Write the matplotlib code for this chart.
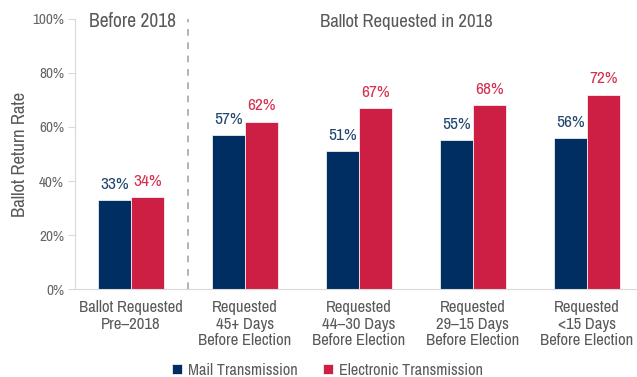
import matplotlib.pyplot as plt
import numpy as np

plt.rcParams["font.family"] = ["Archivo Narrow", "DejaVu Sans"]

categories = [
    "Ballot Requested\nPre\u20132018",
    "Requested\n45+ Days\nBefore Election",
    "Requested\n44\u201330 Days\nBefore Election",
    "Requested\n29\u201315 Days\nBefore Election",
    "Requested\n<15 Days\nBefore Election",
]
mail = [33, 57, 51, 55, 56]
electronic = [34, 62, 67, 68, 72]
yticks = [0, 20, 40, 60, 80, 100]

navy = "#002D62"
red = "#CC1F43"
navy_txt = "#23466F"
red_txt = "#D5304F"
gray = "#595959"

fig = plt.figure(figsize=(6.37, 3.77), dpi=100)
ax = fig.add_axes([0.118, 0.233, 0.882, 0.717])

x = np.arange(len(categories))
w = 0.29
ax.bar(x - w / 2, mail, w, color=navy, edgecolor="white", linewidth=0.5,
       label="Mail Transmission")
ax.bar(x + w / 2, electronic, w, color=red, edgecolor="white", linewidth=0.5,
       label="Electronic Transmission")

for i in range(len(categories)):
    ax.text(x[i] - w / 2, mail[i] + 3, f"{mail[i]}%", ha="center", va="bottom",
            color=navy_txt, fontsize=12.5)
    ax.text(x[i] + w / 2, electronic[i] + 3, f"{electronic[i]}%", ha="center",
            va="bottom", color=red_txt, fontsize=12.5)

ax.set_xlim(-0.49, 4.44)
ax.set_ylim(0, 100)
ax.set_yticks(yticks)
ax.set_yticklabels([f"{t}%" for t in yticks])
ax.set_xticks(x)
ax.set_xticklabels(categories, linespacing=1.12)
ax.tick_params(axis="x", length=0, pad=8, labelsize=12, colors=gray)
ax.tick_params(axis="y", length=5, width=0.8, labelsize=11, pad=3,
               colors="#D9D9D9", labelcolor="#666666")

for s in ["top", "right"]:
    ax.spines[s].set_visible(False)
ax.spines["left"].set_color("#D9D9D9")
ax.spines["bottom"].set_color("#D9D9D9")

ax.set_ylabel("Ballot Return Rate", color=gray, fontsize=13.5, labelpad=3)

ax.axvline(0.5, color="#A6A6A6", linestyle=(0, (4, 4)), linewidth=1.2)
ax.text(-0.37, 99, "Before 2018", ha="left", va="center", color=gray, fontsize=14)
ax.text(2.42, 99, "Ballot Requested in 2018", ha="center", va="center",
        color=gray, fontsize=13.5)

ax.legend(loc="center", bbox_to_anchor=(0.449, -0.30), ncol=2, frameon=False,
          handlelength=0.6, handleheight=0.6, handletextpad=0.35,
          columnspacing=1.6, fontsize=11.7, labelcolor=gray)

fig.savefig("out.png", dpi=100)
